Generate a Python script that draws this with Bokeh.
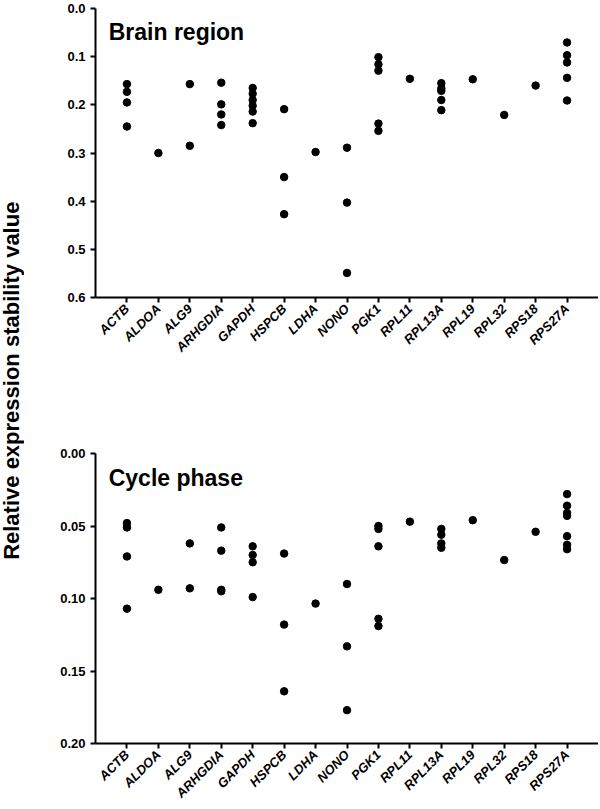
from math import pi
from bokeh.plotting import figure
from bokeh.layouts import row, column
from bokeh.models import Range1d, FixedTicker, Label, PrintfTickFormatter
from bokeh.embed import file_html
from bokeh.resources import INLINE

genes = ["ACTB", "ALDOA", "ALG9", "ARHGDIA", "GAPDH", "HSPCB", "LDHA", "NONO",
         "PGK1", "RPL11", "RPL13A", "RPL19", "RPL32", "RPS18", "RPS27A"]

brain_values = [
    [0.157, 0.173, 0.195, 0.245],          # ACTB
    [0.300],                               # ALDOA
    [0.157, 0.285],                        # ALG9
    [0.154, 0.199, 0.220, 0.242],          # ARHGDIA
    [0.165, 0.177, 0.190, 0.202, 0.214, 0.238],  # GAPDH
    [0.209, 0.350, 0.427],                 # HSPCB
    [0.298],                               # LDHA
    [0.289, 0.403, 0.549],                 # NONO
    [0.101, 0.116, 0.129, 0.239, 0.254],   # PGK1
    [0.146],                               # RPL11
    [0.155, 0.166, 0.171, 0.190, 0.211],   # RPL13A
    [0.147],                               # RPL19
    [0.221],                               # RPL32
    [0.160],                               # RPS18
    [0.0705, 0.097, 0.112, 0.144, 0.191],  # RPS27A
]

cycle_values = [
    [0.048, 0.051, 0.071, 0.107],          # ACTB
    [0.094],                               # ALDOA
    [0.062, 0.093],                        # ALG9
    [0.051, 0.067, 0.094, 0.095],          # ARHGDIA
    [0.064, 0.070, 0.075, 0.099],          # GAPDH
    [0.069, 0.118, 0.164],                 # HSPCB
    [0.1035],                              # LDHA
    [0.090, 0.133, 0.177],                 # NONO
    [0.050, 0.052, 0.064, 0.114, 0.119],   # PGK1
    [0.047],                               # RPL11
    [0.052, 0.056, 0.062, 0.065],          # RPL13A
    [0.046],                               # RPL19
    [0.0735],                              # RPL32
    [0.054],                               # RPS18
    [0.028, 0.036, 0.041, 0.043, 0.057, 0.063, 0.066],  # RPS27A
]

brain_ticks = [0.0, 0.1, 0.2, 0.3, 0.4, 0.5, 0.6]
cycle_ticks = [0.00, 0.05, 0.10, 0.15, 0.20]

y_title = "Relative expression stability value"
panel_titles = ["Brain region", "Cycle phase"]

FONT = "Liberation Sans"


def make_panel(values, ticks, fmt, title, height, border_top, border_bottom):
    p = figure(width=574, height=height, toolbar_location=None, output_backend="svg",
               x_range=Range1d(0, 16), y_range=Range1d(ticks[-1], ticks[0]),
               min_border_left=71, min_border_right=0, min_border_top=border_top,
               min_border_bottom=border_bottom)
    xs, ys = [], []
    for i, vals in enumerate(values):
        for v in vals:
            xs.append(i + 1)
            ys.append(v)
    p.scatter(xs, ys, size=7.5, color="black")
    p.grid.visible = False
    p.outline_line_color = None

    p.axis.axis_line_width = 2
    p.axis.axis_line_color = "black"
    p.axis.major_tick_line_width = 2
    p.axis.major_tick_line_color = "black"
    p.axis.major_tick_out = 5
    p.axis.major_tick_in = 0
    p.axis.minor_tick_line_color = None
    p.axis.major_label_text_font = FONT
    p.axis.major_label_text_color = "black"
    p.axis.major_label_text_font_size = "13px"

    ya = p.yaxis[0]
    ya.ticker = FixedTicker(ticks=ticks)
    ya.formatter = PrintfTickFormatter(format=fmt)
    ya.major_label_text_font_style = "bold"
    ya.major_label_standoff = 5

    xa = p.xaxis[0]
    xa.ticker = FixedTicker(ticks=list(range(1, len(genes) + 1)))
    xa.major_label_overrides = {i + 1: g for i, g in enumerate(genes)}
    xa.major_label_orientation = pi / 4
    xa.major_label_text_font_style = "bold italic"
    xa.major_label_standoff = 4

    p.add_layout(Label(x=0.42, y=title[1], text=title[0], text_font=FONT,
                       text_font_style="bold", text_font_size="23px",
                       text_color="black",
                       text_baseline="alphabetic", text_align="left"))
    return p


top = make_panel(brain_values, brain_ticks, "%.1f", (panel_titles[0], 0.049), 445, 8, 148)
bottom = make_panel(cycle_values, cycle_ticks, "%.2f", (panel_titles[1], 0.0168), 364, 8, 62)

lab = figure(width=24, height=809, toolbar_location=None, output_backend="svg",
             x_range=Range1d(0, 1), y_range=Range1d(0, 1),
             x_axis_type=None, y_axis_type=None, min_border=0)
lab.grid.visible = False
lab.outline_line_color = None
lab.add_layout(Label(x=0.46, y=0.53, angle=pi / 2, text=y_title, text_font=FONT,
                     text_font_style="bold", text_font_size="22px",
                     text_color="black",
                     text_align="center", text_baseline="middle"))

layout = row(lab, column(top, bottom, spacing=0), spacing=0)

open("out.html", "w").write(file_html(layout, INLINE))
